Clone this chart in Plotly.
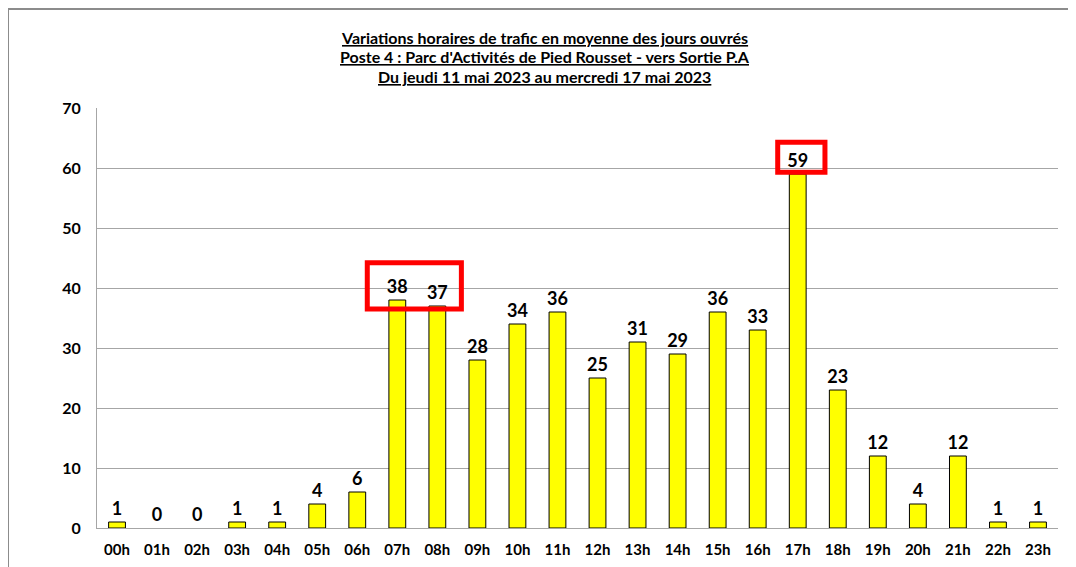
import plotly.graph_objects as go

# hourly traffic, working-day average
hours = [f"{h:02d}h" for h in range(24)]
vehicles = [1, 0, 0, 1, 1, 4, 6, 38, 37, 28, 34, 36, 25, 31, 29, 36, 33, 59, 23, 12, 4, 12, 1, 1]
y_ticks = [0, 10, 20, 30, 40, 50, 60, 70]

title_lines = [
    "Variations horaires de trafic en moyenne des jours ouvrés",
    "Poste 4 : Parc d'Activités de Pied Rousset - vers Sortie P.A",
    "Du jeudi 11 mai 2023 au mercredi 17 mai 2023",
]

FONT = "Lato, 'Open Sans', Arial, sans-serif"

fig = go.Figure()
fig.add_trace(go.Bar(
    x=list(range(24)),
    y=vehicles,
    marker=dict(color="#FFFF00",
                line=dict(color="#000000", width=[1 if v else 0 for v in vehicles])),
    text=[f"<b>{v}</b>" for v in vehicles],
    textposition="outside",
    constraintext="none",
    textfont=dict(family=FONT, size=18, color="#000000"),
    cliponaxis=False,
    width=0.42,
))

# red highlight boxes: morning peak (07h-08h) and evening peak (17h)
morning = [7, 8]
evening = 17
fig.add_shape(type="rect", xref="x", yref="y",
              x0=morning[0] - 0.75, x1=morning[1] + 0.6,
              y0=vehicles[morning[1]] - 0.5, y1=vehicles[morning[0]] + 6.2,
              line=dict(color="#FF0000", width=5), fillcolor="rgba(0,0,0,0)")
fig.add_shape(type="rect", xref="x", yref="y",
              x0=evening - 0.5, x1=evening + 0.68,
              y0=vehicles[evening] + 0.3, y1=vehicles[evening] + 5.3,
              line=dict(color="#FF0000", width=5), fillcolor="rgba(0,0,0,0)")

# outer chart frame
fig.add_shape(type="rect", xref="paper", yref="paper",
              x0=-0.0926, x1=1.2, y0=-0.3, y1=1.2357,
              line=dict(color="#8C8C8C", width=2), layer="below")

for i, line in enumerate(title_lines):
    fig.add_annotation(
        text=f"<b><u>{line}</u></b>", xref="paper", yref="paper",
        x=0.466, y=1.169 - i * 0.0465, showarrow=False,
        xanchor="center", yanchor="middle",
        font=dict(family=FONT, size=16, color="#000000"),
    )

fig.update_layout(
    width=1076, height=567,
    margin=dict(l=89, r=26, t=100, b=47),
    paper_bgcolor="white", plot_bgcolor="white",
    showlegend=False,
    xaxis=dict(
        tickmode="array", tickvals=list(range(24)),
        ticktext=[f"<b>{h}</b>" for h in hours],
        range=[-0.5, 23.5], showgrid=False,
        showline=True, linecolor="#A6A6A6", linewidth=1,
        ticks="", ticklabelstandoff=8,
        tickfont=dict(family=FONT, size=15, color="#000000"),
    ),
    yaxis=dict(
        range=[0, 70], tickmode="array", tickvals=y_ticks,
        ticktext=[f"<b>{t}</b>" for t in y_ticks],
        showgrid=True, gridcolor="#A6A6A6", gridwidth=1,
        showline=True, linecolor="#A6A6A6", linewidth=1,
        zeroline=False, ticks="", ticklabelstandoff=12,
        tickfont=dict(family=FONT, size=16, color="#000000"),
    ),
)

fig.write_html("out.html")
